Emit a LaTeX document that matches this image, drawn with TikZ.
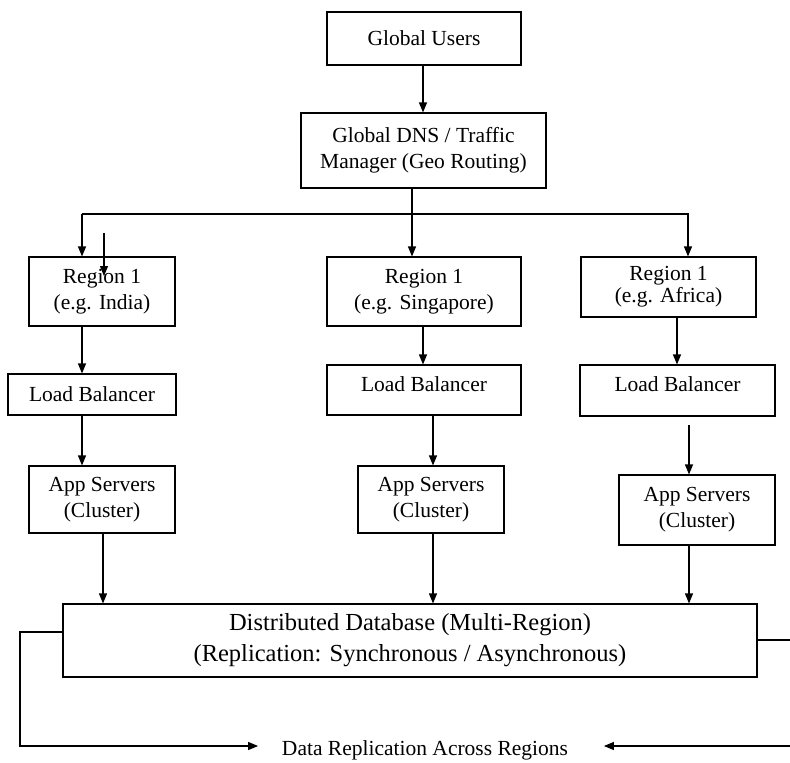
\documentclass[tikz,border=0pt]{standalone}
\usepackage{fontspec}
\setmainfont{Liberation Serif}
\usetikzlibrary{positioning,arrows.meta}

\begin{document}
\begin{tikzpicture}[x=1pt,y=-1pt,line width=1.1pt,
  box/.style={draw,align=center,inner sep=0pt,font=\fontsize{21.5}{26}\selectfont},
  arr/.style={-{Triangle[length=10pt,width=8pt]}}]
\useasboundingbox (0,0) rectangle (790,763);
% Top of the tree
\node[box,minimum width=194,minimum height=53] (users) at (424,38.5) {Global Users};
\node[box,minimum width=245,minimum height=75] (dns) at (423.5,150.5) {Global DNS / Traffic\\Manager (Geo Routing)};
% Regions
\node[box,minimum width=146,minimum height=69] (rIndia) at (102,291.5) {Region 1\\(e.g. India)};
\node[box,minimum width=194,minimum height=69] (rSing) at (424,291.5) {Region 1\\(e.g. Singapore)};
\node[box,minimum width=175,minimum height=60,font=\fontsize{21.5}{22}\selectfont] (rAfr) at (668.5,287) {Region 1\\(e.g. Africa)};
% Load balancers
\node[box,minimum width=168,minimum height=41] (lbIndia) at (92,394.5) {Load Balancer};
\node[box,minimum width=194,minimum height=50,text depth=12pt] (lbSing) at (424,390) {Load Balancer};
\node[box,minimum width=195,minimum height=51,text depth=12pt] (lbAfr) at (677.5,390.5) {Load Balancer};
% App servers
\node[box,minimum width=146,minimum height=67] (appIndia) at (102,499.5) {App Servers\\(Cluster)};
\node[box,minimum width=146,minimum height=67] (appSing) at (431,499.5) {App Servers\\(Cluster)};
\node[box,minimum width=156,minimum height=70] (appAfr) at (697,510) {App Servers\\(Cluster)};
% Database
\node[box,minimum width=694,minimum height=73,font=\fontsize{24.5}{31}\selectfont] (db) at (410,640.5) {Distributed Database (Multi-Region)\\(Replication: Synchronous / Asynchronous)};
\node[font=\fontsize{21.5}{26}\selectfont] (repl) at (425,750) {Data Replication Across Regions};
% Ends of the replication lines
\coordinate (cornL) at (20,632);
\coordinate (edgeR) at (790,640);
\coordinate (edgeRb) at (790,746);
% Connectors
\draw[arr] (users.south -| 423,0) -- (dns.north -| 423,0);
\draw (dns.south -| 412,0) -- (412,214);
\draw[arr] (82,214) -- (rIndia.north -| 82,0);
\draw[arr] (412,214) -- (rSing.north -| 412,0);
\draw[arr] (82,214) -- (688,214) -- (rAfr.north -| 688,0);
\draw[arr] (104,233) -- (104,276);
\draw[arr] (rIndia.south -| 82,0) -- (lbIndia.north -| 82,0);
\draw[arr] (rSing.south -| 423,0) -- (lbSing.north -| 423,0);
\draw[arr] (rAfr.south -| 677,0) -- (lbAfr.north -| 677,0);
\draw[arr] (lbIndia.south -| 82,0) -- (appIndia.north -| 82,0);
\draw[arr] (lbSing.south -| 433,0) -- (appSing.north -| 433,0);
\draw[arr] (689,425) -- (appAfr.north -| 689,0);
\draw[arr] (appIndia.south -| 103,0) -- (db.north -| 103,0);
\draw[arr] (appSing.south -| 433,0) -- (db.north -| 433,0);
\draw[arr] (appAfr.south -| 689,0) -- (db.north -| 689,0);
\draw[arr] (db.west |- cornL) -- (cornL) |- ([xshift=-20pt]repl.west |- edgeRb);
\draw (db.east |- edgeR) -- (edgeR);
\draw[arr] (edgeRb) -- ([xshift=32pt]repl.east |- edgeRb);
\end{tikzpicture}
\end{document}
